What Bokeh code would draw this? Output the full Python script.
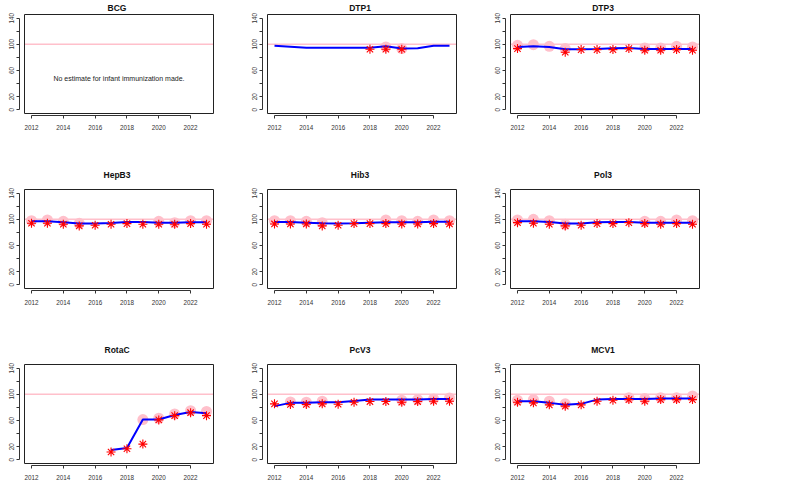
import math
from bokeh.plotting import figure
from bokeh.layouts import column, row
from bokeh.models import FixedTicker, Label
from bokeh.embed import file_html
from bokeh.resources import INLINE

NaN = float("nan")

# ---------------- data ----------------
years = [2012, 2013, 2014, 2015, 2016, 2017, 2018, 2019, 2020, 2021, 2022, 2023]
x_ticks = [2012, 2014, 2016, 2018, 2020, 2022]
y_ticks = [0, 20, 40, 60, 80, 100, 120, 140]
y_labels_hidden = [40, 80, 120]
target = 100

bcg_note = "No estimate for infant immunization made."

dtp1_wuenic = [98, 96.5, 95, 95, 95, 95, 95, 97, 93.5, 94, 98, 98]
dtp1_reported = [NaN, NaN, NaN, NaN, NaN, NaN, 92.5, 92.5, 92.5, NaN, NaN, NaN]
dtp1_survey = [NaN, NaN, NaN, NaN, NaN, NaN, NaN, 96, 93.5, NaN, NaN, NaN]

dtp3_wuenic = [96, 97, 96, 92.5, 92.5, 93, 94, 94.5, 93, 93, 93, 93]
dtp3_reported = [93.5, NaN, NaN, 88, 92, 92, 92, 93.5, 91, 91, 92, 91]
dtp3_survey = [98.5, 99.5, 97, 93.5, NaN, NaN, NaN, NaN, 94.5, 94.5, 97, 96]

hepb3_wuenic = [97, 97, 95.5, 93.5, 93.5, 94.5, 96, 96, 95, 95, 95.5, 95.5]
hepb3_reported = [94, 94, 92.5, 90, 91, 92.5, 93.5, 92.5, 92.5, 92.5, 93.5, 92.5]
hepb3_survey = [98, 99, 97, 94, NaN, NaN, NaN, NaN, 97, 95, 98, 98]

hib3_wuenic = [96, 96, 95, 94, 93.5, 94, 95, 95.5, 95.5, 95.5, 96.5, 96.5]
hib3_reported = [93, 93, 93, 90, 91, 93.5, 93.5, 93.5, 93, 93, 93.5, 93]
hib3_survey = [98, 98, 97, 95, NaN, NaN, NaN, 99, 98, 97, 99, 98]

pol3_wuenic = [97, 97, 96, 93.5, 93.5, 95.5, 96, 96, 95, 95, 95, 95]
pol3_reported = [95, 94, 92.5, 90, 91, 93.5, 93.5, 95, 93.5, 92.5, 93.5, 92.5]
pol3_survey = [99, 100, 98, 92.5, NaN, NaN, NaN, NaN, 97, 97, 99, 98]

rotac_wuenic = [NaN, NaN, NaN, NaN, NaN, 15, 18, 61.5, 61.5, 68.5, 73, 71]
rotac_reported = [NaN, NaN, NaN, NaN, NaN, 12, 17, 24, 61, 67.5, 72, 67.5]
rotac_survey = [NaN, NaN, NaN, NaN, NaN, NaN, NaN, 61.5, 63.5, 70, 75, 74]

pcv3_wuenic = [82, 87, 87, 88, 88, 90, 92, 92, 92, 92, 93, 93]
pcv3_reported = [85.5, 84.5, 84.5, 85.5, 85, 88, 89, 89, 88, 89, 89.5, 89.5]
pcv3_survey = [NaN, 88.5, 88, 89.5, NaN, NaN, NaN, NaN, 91, 92, 93, 94.5]

mcv1_wuenic = [89.5, 89.5, 87, 84, 85.5, 92, 93, 93, 93, 93.5, 93.5, 93.5]
mcv1_reported = [88, 87, 84, 82, 84, 89.5, 91, 92, 89.5, 92, 92, 92]
mcv1_survey = [91, 92, 89.5, 85.5, NaN, NaN, NaN, 95, 93.5, 95, 95, 97.5]

titles = ["BCG", "DTP1", "DTP3", "HepB3", "Hib3", "Pol3", "RotaC", "PcV3", "MCV1"]
wuenic = [None, dtp1_wuenic, dtp3_wuenic, hepb3_wuenic, hib3_wuenic, pol3_wuenic,
          rotac_wuenic, pcv3_wuenic, mcv1_wuenic]
reported = [None, dtp1_reported, dtp3_reported, hepb3_reported, hib3_reported,
            pol3_reported, rotac_reported, pcv3_reported, mcv1_reported]
survey = [None, dtp1_survey, dtp3_survey, hepb3_survey, hib3_survey, pol3_survey,
          rotac_survey, pcv3_survey, mcv1_survey]

# ---------------- geometry ----------------
FONT = "Liberation Sans"
BOX_W, BOX_H = 189, 99
x_lo, x_hi = min(years), max(years)
x_pad = 0.04 * (x_hi - x_lo)
box_x = (x_lo - x_pad, x_hi + x_pad)
y_lo, y_hi = min(y_ticks), max(y_ticks)
y_pad = 0.04 * (y_hi - y_lo)
box_y = (y_lo - y_pad, y_hi + y_pad)
px_x = BOX_W / (box_x[1] - box_x[0])
px_y = BOX_H / (box_y[1] - box_y[0])
AX_GAP_L, AX_GAP_B = 5, 2  # R-style axis offset from the box (px)
frame_x = (box_x[0] - AX_GAP_L / px_x, box_x[1] + 1 / px_x)
frame_y = (box_y[0] - AX_GAP_B / px_y, box_y[1] + 1 / px_y)
FRAME_W = BOX_W + AX_GAP_L + 1
FRAME_H = BOX_H + AX_GAP_B + 1

row_top = [13, 30, 30]
row_bottom = [43, 43, 25]
title_standoff = [1, 18, 18]


def make_panel(i):
    r = i // 3
    p = figure(frame_width=FRAME_W, frame_height=FRAME_H,
               x_range=frame_x, y_range=frame_y,
               output_backend="svg", toolbar_location=None,
               min_border_left=19, min_border_right=29,
               min_border_top=row_top[r], min_border_bottom=row_bottom[r],
               title=titles[i])
    p.outline_line_color = None
    p.grid.visible = False
    p.background_fill_color = "white"
    p.border_fill_color = "white"

    p.title.align = "center"
    p.title.text_font = FONT
    p.title.text_font_size = "8.5px"
    p.title.text_font_style = "bold"
    p.title.text_color = "#111"
    p.title.standoff = title_standoff[r]

    for ax in (p.xaxis, p.yaxis):
        ax.axis_line_color = "#333"
        ax.major_tick_line_color = "#333"
        ax.minor_tick_line_color = None
        ax.major_tick_in = 0
        ax.major_tick_out = 3
        ax.major_label_text_font = FONT
        ax.major_label_text_font_size = "6.3px"
        ax.major_label_text_color = "#333"
    p.xaxis.ticker = FixedTicker(ticks=x_ticks)
    p.xaxis.bounds = (x_ticks[0], x_ticks[-1])
    p.xaxis.major_label_standoff = 6
    p.xaxis.formatter.use_scientific = False
    p.yaxis.ticker = FixedTicker(ticks=y_ticks)
    p.yaxis.bounds = (y_ticks[0], y_ticks[-1])
    p.yaxis.major_label_orientation = "vertical"
    p.yaxis.major_label_standoff = 2
    p.yaxis.major_label_overrides = {v: "" for v in y_labels_hidden}

    # target line at 100 %
    p.segment(x0=[box_x[0]], y0=[target], x1=[box_x[1]], y1=[target],
              line_color="pink", line_width=1.5)
    # R-style box
    p.quad(left=[box_x[0]], right=[box_x[1]], bottom=[box_y[0]], top=[box_y[1]],
           fill_color=None, line_color="#222", line_width=1)

    if wuenic[i] is None:
        p.add_layout(Label(x=(x_lo + x_hi) / 2, y=48, text=bcg_note,
                           text_font=FONT, text_font_size="7px",
                           text_align="center", text_baseline="middle",
                           text_color="#222"))
    else:
        p.scatter(years, survey[i], marker="circle", size=11,
                  fill_color="pink", fill_alpha=1.0, line_color=None)
        p.line(years, wuenic[i], line_color="blue", line_width=2)
        p.scatter(years, reported[i], marker="asterisk", size=9,
                  line_color="red", line_width=1.1)
    return p


panels = [make_panel(i) for i in range(9)]
layout = column(row(*panels[0:3]), row(*panels[3:6]), row(*panels[6:9]))

open("out.html", "w").write(file_html(layout, INLINE))
